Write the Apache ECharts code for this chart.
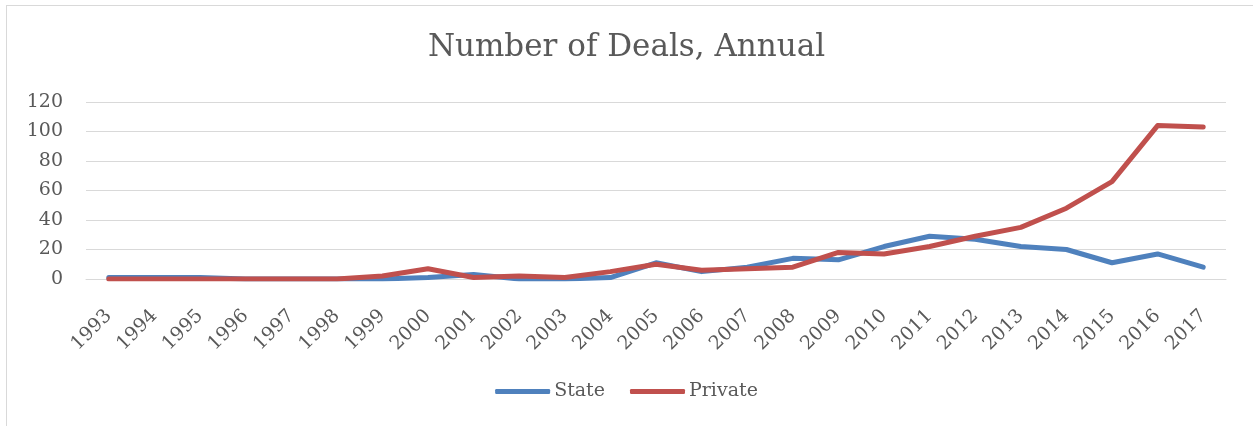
<!DOCTYPE html>
<html>
<head>
<meta charset="utf-8">
<script src="https://cdn.jsdelivr.net/npm/echarts@6/dist/echarts.min.js"></script>
<style>
  html, body { margin: 0; padding: 0; background: #fff; }
  #frame { position: absolute; left: 6px; top: 5px; width: 1247px; height: 421px;
           border-top: 1px solid #d9d9d9; border-left: 1px solid #d9d9d9; }
  #chart { position: absolute; left: 0; top: 0; width: 1253px; height: 426px; }
</style>
</head>
<body>
<div id="frame"></div>
<div id="chart"></div>
<script>
const years = ['1993', '1994', '1995', '1996', '1997', '1998', '1999', '2000', '2001', '2002', '2003', '2004', '2005',
  '2006', '2007', '2008', '2009', '2010', '2011', '2012', '2013', '2014', '2015', '2016', '2017']
const stateDeals = [1, 1, 1, 0, 0, 0, 0, 1, 3, 0, 0, 1, 11, 5, 8, 14, 13, 22, 29, 27, 22, 20, 11, 17, 8]
const privateDeals = [0, 0, 0, 0, 0, 0, 2, 7, 1, 2, 1, 5, 10, 6, 7, 8, 18, 17, 22, 29, 35, 48, 66, 104, 103]
const yTicks = [0, 20, 40, 60, 80, 100, 120]

const font = 'DejaVu Serif'
const textColor = '#595959'

const chart = echarts.init(document.getElementById('chart'), null, { renderer: 'canvas' })
chart.setOption({
  animation: false,
  title: {
    text: 'Number of Deals, Annual',
    left: 'center',
    top: 27,
    textStyle: { fontFamily: font, fontSize: 31, fontWeight: 'normal', color: textColor }
  },
  legend: {
    top: 377,
    left: 'center',
    icon: 'roundRect',
    itemWidth: 55,
    itemHeight: 5,
    itemGap: 25,
    textStyle: { fontFamily: font, fontSize: 19, color: textColor, padding: [0, 0, 0, -1] },
    data: ['State', 'Private']
  },
  grid: { left: 86, right: 27, top: 102, bottom: 147 },
  xAxis: {
    type: 'category',
    data: years,
    boundaryGap: true,
    axisLine: { show: true, lineStyle: { color: '#d9d9d9', width: 1 } },
    axisTick: { show: false },
    axisLabel: {
      rotate: 45,
      interval: 0,
      margin: 34,
      fontFamily: font,
      fontSize: 19,
      color: textColor
    }
  },
  yAxis: {
    type: 'value',
    min: yTicks[0],
    max: yTicks[yTicks.length - 1],
    interval: 20,
    axisLine: { show: false },
    axisTick: { show: false },
    splitLine: { lineStyle: { color: '#d9d9d9', width: 1 } },
    axisLabel: { fontFamily: font, fontSize: 19, color: textColor, margin: 23 }
  },
  series: [{
    name: 'State',
    type: 'line',
    data: stateDeals,
    showSymbol: false,
    symbol: 'none',
    lineStyle: { width: 5, color: '#4F81BD', cap: 'round', join: 'round' },
    itemStyle: { color: '#4F81BD' }
  }, {
    name: 'Private',
    type: 'line',
    data: privateDeals,
    showSymbol: false,
    symbol: 'none',
    lineStyle: { width: 5, color: '#C0504D', cap: 'round', join: 'round' },
    itemStyle: { color: '#C0504D' }
  }]
})
</script>
</body>
</html>
